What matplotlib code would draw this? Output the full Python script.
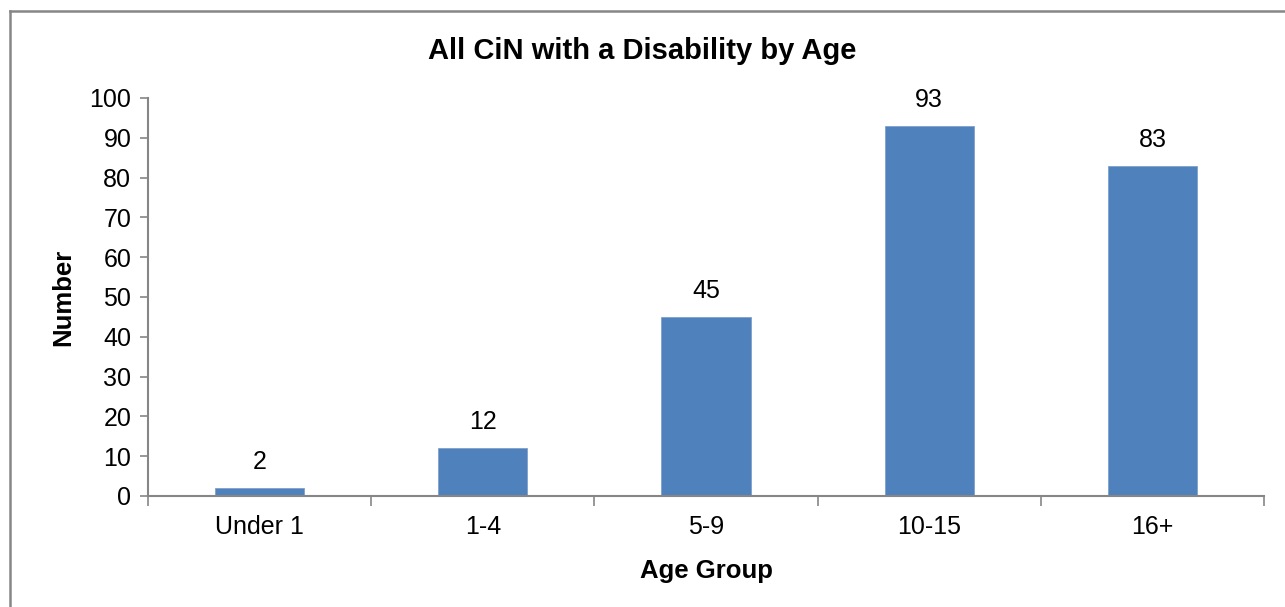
import matplotlib.pyplot as plt
from matplotlib.lines import Line2D

plt.rcParams['font.family'] = ['Liberation Sans', 'DejaVu Sans']

categories = ['Under 1', '1-4', '5-9', '10-15', '16+']
counts = [2, 12, 45, 93, 83]

bar_color = '#4F81BD'
grey = '#868686'

fig = plt.figure(figsize=(12.85, 6.07), dpi=100)
ax = fig.add_axes([0.1152, 0.1829, 0.8685, 0.6557])

x = list(range(len(categories)))
bars = ax.bar(x, counts, width=0.4, color=bar_color, edgecolor='#7FA1CC', linewidth=0.6, zorder=2)

# value labels above the bars
for xi, v in zip(x, counts):
    ax.annotate(str(v), (xi, v), xytext=(0, 10), textcoords='offset points',
                ha='center', va='bottom', fontsize=18)

ax.set_xlim(-0.5, len(categories) - 0.5)
ax.set_ylim(0, 100)
ax.set_yticks(range(0, 101, 10))
ax.set_xticks(x)
ax.set_xticklabels(categories)
# tick marks sit between the categories
ax.set_xticks([i - 0.5 for i in range(len(categories) + 1)], minor=True)
ax.tick_params(axis='x', which='major', length=0, pad=14, labelsize=18)
ax.tick_params(axis='x', which='minor', length=7, width=1.2, color=grey, direction='out')
ax.tick_params(axis='y', length=6, width=1.2, color=grey, pad=6, labelsize=18)

for side in ['top', 'right']:
    ax.spines[side].set_visible(False)
for side in ['left', 'bottom']:
    ax.spines[side].set_color(grey)
    ax.spines[side].set_linewidth(1.5)

ax.set_xlabel('Age Group', fontsize=18.5, fontweight='bold', labelpad=14)
ax.set_ylabel('Number', fontsize=18.5, fontweight='bold', labelpad=10)
fig.text(0.5, 0.916, 'All CiN with a Disability by Age', ha='center', va='center',
         fontsize=21, fontweight='bold')

# outer chart border (only left and top edges fall inside the picture)
bx, by = 9.5 / 1285, 1 - 10.5 / 607
fig.add_artist(Line2D([bx, bx], [0, by], transform=fig.transFigure, color=grey, linewidth=1.8))
fig.add_artist(Line2D([bx, 1], [by, by], transform=fig.transFigure, color=grey, linewidth=1.8))

fig.savefig('out.png', dpi=100)
